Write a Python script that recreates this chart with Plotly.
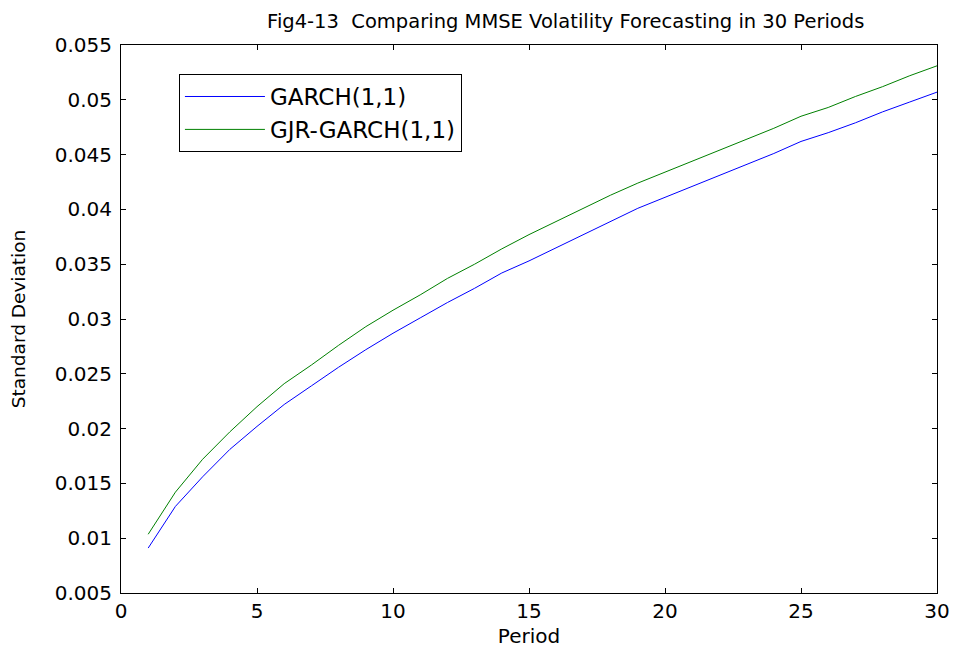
import plotly.graph_objects as go

periods = list(range(1, 31))
garch = [0.0091, 0.0129, 0.0156, 0.0181, 0.0202, 0.0222, 0.0239, 0.0256, 0.0272, 0.0287,
         0.0301, 0.0315, 0.0328, 0.0342, 0.0353, 0.0365, 0.0377, 0.0389, 0.0401, 0.0411,
         0.0421, 0.0431, 0.0441, 0.0451, 0.0462, 0.0470, 0.0479, 0.0489, 0.0498, 0.0507]
gjr = [0.01036, 0.0142, 0.0172, 0.0197, 0.0220, 0.0241, 0.0258, 0.0276, 0.0293, 0.0308,
       0.0322, 0.0337, 0.0350, 0.0364, 0.0377, 0.0389, 0.0401, 0.0413, 0.0424, 0.0434,
       0.0444, 0.0454, 0.0464, 0.0474, 0.0485, 0.0493, 0.0503, 0.0512, 0.0522, 0.0531]
x_ticks = [0, 5, 10, 15, 20, 25, 30]
y_ticks = [0.005, 0.01, 0.015, 0.02, 0.025, 0.03, 0.035, 0.04, 0.045, 0.05, 0.055]
y_tick_text = ["0.005", "0.01", "0.015", "0.02", "0.025", "0.03", "0.035", "0.04", "0.045", "0.05", "0.055"]

font_family = "DejaVu Sans, Liberation Sans, Arial, sans-serif"

fig = go.Figure()
fig.add_trace(go.Scatter(x=periods, y=garch, mode="lines", name="GARCH(1,1)",
                         line=dict(color="#0000FF", width=1)))
fig.add_trace(go.Scatter(x=periods, y=gjr, mode="lines", name="GJR-GARCH(1,1)",
                         line=dict(color="#008000", width=1)))

axis_common = dict(showline=True, linecolor="black", linewidth=1, mirror="ticks",
                   ticks="inside", ticklen=5, tickcolor="black", showgrid=False,
                   zeroline=False, automargin=False,
                   tickfont=dict(family=font_family, size=20, color="black"))

fig.update_layout(
    width=953, height=652,
    margin=dict(l=121, r=16, t=45, b=59),
    paper_bgcolor="white", plot_bgcolor="white",
    title=dict(text="Fig4-13  Comparing MMSE Volatility Forecasting in 30 Periods",
               xref="paper", x=0.545, xanchor="center", yref="container", y=0.968, yanchor="middle",
               font=dict(family=font_family, size=19.5, color="black")),
    xaxis=dict(range=[0, 30], tickvals=x_ticks,
               title=dict(text="Period", font=dict(family=font_family, size=20, color="black"), standoff=6),
               **axis_common),
    yaxis=dict(range=[0.005, 0.055], tickvals=y_ticks, ticktext=y_tick_text,
               ticklabelstandoff=4,
               title=dict(text="Standard Deviation", font=dict(family=font_family, size=18.5, color="black"), standoff=24),
               **axis_common),
    legend=dict(x=0.071, y=0.947, xanchor="left", yanchor="top",
                bordercolor="black", borderwidth=1, bgcolor="white",
                font=dict(family=font_family, size=23, color="black"),
                itemwidth=80, tracegroupgap=0),
    showlegend=True,
)

fig.write_html("out.html")
